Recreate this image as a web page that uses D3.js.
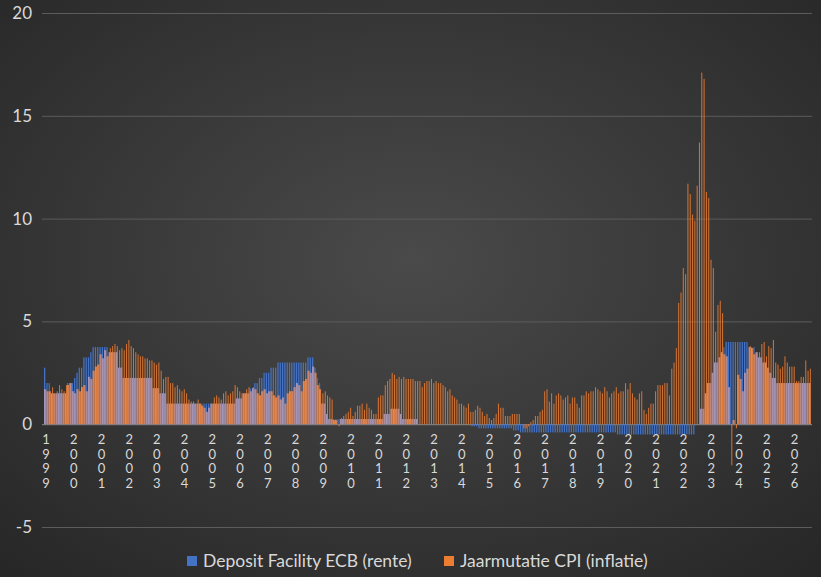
<!DOCTYPE html>
<html>
<head>
<meta charset="utf-8">
<script src="https://cdn.jsdelivr.net/npm/d3@7"></script>
<style>
 body { margin:0; background:#2b2b2b; }
 svg { display:block; font-family: Lato, "Open Sans", sans-serif; }
</style>
</head>
<body>
<div id="chart"></div>
<script>
// months from Jan 1999 through Aug 2026
var startYear = 1999;

// ECB deposit facility rate, per year (12 months each)
var depositRate = [
	[2.75,2.0,2.0,1.5,1.5,1.5,1.5,1.5,1.5,1.5,2.0,2.0],
	[2.0,2.25,2.5,2.75,2.75,3.25,3.25,3.25,3.5,3.75,3.75,3.75],
	[3.75,3.75,3.75,3.75,3.5,3.5,3.5,3.5,2.75,2.75,2.25,2.25],
	[2.25,2.25,2.25,2.25,2.25,2.25,2.25,2.25,2.25,2.25,2.25,1.75],
	[1.75,1.75,1.5,1.5,1.5,1.0,1.0,1.0,1.0,1.0,1.0,1.0],
	[1.0,1.0,1.0,1.0,1.0,1.0,1.0,1.0,1.0,1.0,1.0,1.0],
	[1.0,1.0,1.0,1.0,1.0,1.0,1.0,1.0,1.0,1.0,1.0,1.25],
	[1.25,1.25,1.5,1.5,1.5,1.75,1.75,2.0,2.0,2.25,2.25,2.5],
	[2.5,2.5,2.75,2.75,2.75,3.0,3.0,3.0,3.0,3.0,3.0,3.0],
	[3.0,3.0,3.0,3.0,3.0,3.0,3.25,3.25,3.25,2.75,2.25,2.0],
	[1.0,1.0,0.5,0.25,0.25,0.25,0.25,0.25,0.25,0.25,0.25,0.25],
	[0.25,0.25,0.25,0.25,0.25,0.25,0.25,0.25,0.25,0.25,0.25,0.25],
	[0.25,0.25,0.25,0.5,0.5,0.5,0.75,0.75,0.75,0.75,0.5,0.25],
	[0.25,0.25,0.25,0.25,0.25,0.25,0,0,0,0,0,0],
	[0,0,0,0,0,0,0,0,0,0,0,0],
	[0,0,0,0,0,-0.1,-0.1,-0.1,-0.2,-0.2,-0.2,-0.2],
	[-0.2,-0.2,-0.2,-0.2,-0.2,-0.2,-0.2,-0.2,-0.2,-0.2,-0.2,-0.3],
	[-0.3,-0.3,-0.4,-0.4,-0.4,-0.4,-0.4,-0.4,-0.4,-0.4,-0.4,-0.4],
	[-0.4,-0.4,-0.4,-0.4,-0.4,-0.4,-0.4,-0.4,-0.4,-0.4,-0.4,-0.4],
	[-0.4,-0.4,-0.4,-0.4,-0.4,-0.4,-0.4,-0.4,-0.4,-0.4,-0.4,-0.4],
	[-0.4,-0.4,-0.4,-0.4,-0.4,-0.4,-0.4,-0.4,-0.5,-0.5,-0.5,-0.5],
	[-0.5,-0.5,-0.5,-0.5,-0.5,-0.5,-0.5,-0.5,-0.5,-0.5,-0.5,-0.5],
	[-0.5,-0.5,-0.5,-0.5,-0.5,-0.5,-0.5,-0.5,-0.5,-0.5,-0.5,-0.5],
	[-0.5,-0.5,-0.5,-0.5,-0.5,-0.5,0,0,0.75,0.75,1.5,2.0],
	[2.0,2.5,3.0,3.0,3.25,3.5,3.75,4.0,4.0,4.0,4.0,4.0],
	[4.0,4.0,4.0,4.0,4.0,3.75,3.75,3.75,3.5,3.25,3.25,3.0],
	[3.0,2.75,2.5,2.25,2.25,2.0,2.0,2.0,2.0,2.0,2.0,2.0],
	[2.0,2.0,2.0,2.0,2.0,2.0,2.0,2.0]
];

// yearly change CPI, per year
var inflation = [
	[1.7,1.6,1.6,1.8,1.5,1.6,1.9,1.7,1.6,1.9,1.9,2.0],
	[1.6,1.5,1.7,1.6,1.8,1.9,1.6,2.3,2.2,2.6,2.8,2.9],
	[3.4,3.2,3.6,3.3,3.7,3.8,3.9,3.8,3.6,3.7,3.6,3.9],
	[4.1,3.8,3.7,3.5,3.4,3.3,3.3,3.2,3.2,3.1,3.1,3.0],
	[2.9,3.0,2.6,2.2,2.3,2.3,2.0,2.0,1.8,1.9,1.7,1.6],
	[1.7,1.5,1.2,1.1,1.1,1.0,1.2,1.0,0.9,0.8,0.6,0.8],
	[1.0,1.3,1.4,1.3,1.2,1.5,1.6,1.4,1.5,1.6,1.9,1.8],
	[1.6,1.5,1.5,1.7,1.8,1.6,1.8,1.7,1.5,1.4,1.6,1.7],
	[1.5,1.6,1.6,1.4,1.3,1.4,1.2,1.3,1.0,1.5,1.6,1.6],
	[1.8,2.0,1.9,1.6,2.1,2.2,2.6,2.5,2.8,2.5,1.9,1.7],
	[1.5,1.6,1.4,1.3,1.2,0.2,0.2,-0.1,0.3,0.4,0.5,0.6],
	[0.8,0.4,0.6,0.9,0.9,1.0,0.7,1.0,0.8,0.7,0.5,0.5],
	[1.3,1.4,1.4,1.9,2.1,2.2,2.5,2.4,2.2,2.3,2.2,2.3],
	[2.2,2.2,2.2,2.2,2.1,2.1,2.1,1.8,2.0,2.1,2.1,2.2],
	[2.0,2.1,2.0,2.0,1.9,1.8,1.6,1.7,1.4,1.3,1.2,1.0],
	[1.0,0.9,0.8,1.0,0.6,0.6,0.7,0.9,0.8,0.6,0.4,0.5],
	[0.3,0.2,0.3,0.5,1.0,0.8,0.8,0.4,0.4,0.4,0.5,0.5],
	[0.5,0.5,0.0,-0.2,-0.2,-0.1,0.1,0.2,0.4,0.4,0.6,0.7],
	[1.6,1.7,1.1,1.5,1.0,1.4,1.5,1.4,1.2,1.3,1.4,1.0],
	[1.3,1.3,1.0,0.8,1.4,1.4,1.6,1.5,1.6,1.6,1.8,1.7],
	[1.6,1.5,1.8,1.6,1.3,1.5,1.6,1.8,1.5,1.6,1.6,2.0],
	[1.7,2.0,1.5,1.3,1.2,1.5,1.6,0.7,0.5,0.8,1.0,1.0],
	[1.6,1.9,1.9,1.9,2.0,2.0,1.4,2.7,3.0,3.7,5.9,6.4],
	[7.6,7.3,11.7,11.2,10.2,9.9,11.6,13.7,17.1,16.8,11.3,11.0],
	[8.0,7.6,4.5,5.8,6.0,5.4,3.4,3.3,1.8,-2.0,0.2,-0.2],
	[2.4,2.2,1.6,2.5,2.7,3.8,3.7,3.4,3.5,3.5,3.9,4.0],
	[3.3,3.8,3.7,4.1,3.0,2.9,2.7,2.8,3.3,3.0,2.8,2.8],
	[2.8,2.1,2.1,2.3,2.3,3.1,2.6,2.7]
];

var yTicks = [-5, 0, 5, 10, 15, 20];
var seriesNames = ["Deposit Facility ECB (rente)", "Jaarmutatie CPI (inflatie)"];
var seriesColors = ["#4472c4", "#ed7d31"];

var data = [];
depositRate.forEach(function(row, yi) {
	row.forEach(function(v, mi) {
		data.push({ i: data.length, year: startYear + yi, month: mi, dep: v, cpi: inflation[yi][mi] });
	});
});

var W = 821, H = 577;
var svg = d3.select("#chart").append("svg").attr("width", W).attr("height", H);

var defs = svg.append("defs");
var grad = defs.append("radialGradient").attr("id", "bg").attr("cx", "50%").attr("cy", "45%").attr("r", "75%");
grad.append("stop").attr("offset", "0%").attr("stop-color", "#4a4a4a");
grad.append("stop").attr("offset", "100%").attr("stop-color", "#262626");
svg.append("rect").attr("width", W).attr("height", H).attr("fill", "url(#bg)");

var x = d3.scaleBand().domain(data.map(function(d) { return d.i; })).range([44, 811]).padding(0);
var y = d3.scaleLinear().domain([-5, 20]).range([527, 13]);
var bw = x.bandwidth();

// grid
svg.append("g").selectAll("line").data(yTicks).enter().append("line")
	.attr("x1", 42).attr("x2", 812)
	.attr("y1", function(d) { return y(d) + 0.5; }).attr("y2", function(d) { return y(d) + 0.5; })
	.attr("stroke", function(d) { return d === 0 ? "#8a8a8a" : "#5c5c5c"; }).attr("stroke-width", 1);

// y axis labels
var yAxis = d3.axisLeft(y).tickValues(yTicks).tickSize(0).tickPadding(0).tickFormat(function(d) { return String(d); });
var gy = svg.append("g").attr("transform", "translate(32,0)").call(yAxis);
gy.select(".domain").remove();
gy.selectAll("text").attr("fill", "#d9d9d9").style("font-size", "17px").style("font-family", "Lato, 'Open Sans', sans-serif");

var bars = svg.append("g");
// blue
bars.selectAll(".dep").data(data).enter().append("rect")
	.attr("x", function(d) { return x(d.i); })
	.attr("width", bw * 0.55)
	.attr("y", function(d) { return y(Math.max(0, d.dep)); })
	.attr("height", function(d) { return Math.abs(y(d.dep) - y(0)); })
	.attr("fill", seriesColors[0]);
// overlap where both series share sign
bars.selectAll(".ov").data(data.filter(function(d) { return d.dep > 0 && d.cpi > 0; })).enter().append("rect")
	.attr("x", function(d) { return x(d.i); })
	.attr("width", bw * 0.85)
	.attr("y", function(d) { return y(Math.min(d.dep, d.cpi)); })
	.attr("height", function(d) { return y(0) - y(Math.min(d.dep, d.cpi)); })
	.attr("fill", "#e2aeb0").attr("opacity", 0.6);
// orange
bars.selectAll(".cpi").data(data).enter().append("rect")
	.attr("x", function(d) { return x(d.i) + bw * 0.5; })
	.attr("width", bw * 0.45)
	.attr("y", function(d) { return y(Math.max(0, d.cpi)); })
	.attr("height", function(d) { return Math.abs(y(d.cpi) - y(0)); })
	.attr("fill", seriesColors[1]).attr("opacity", 0.85);

// x labels: vertical digits
var years = data.filter(function(d) { return d.month === 0; });
var xl = svg.append("g").selectAll("text").data(years).enter().append("text")
	.attr("x", function(d) { return x(d.i) + 2; })
	.attr("y", 444)
	.attr("fill", "#d9d9d9").style("font-size", "13px").attr("text-anchor", "middle");
xl.each(function(d) {
	var t = d3.select(this);
	String(d.year).split("").forEach(function(c, k) {
		t.append("tspan").attr("x", x(d.i) + 2).attr("dy", k === 0 ? 0 : 14.7).text(c);
	});
});

// legend
var lg = svg.append("g").attr("transform", "translate(187,561)");
var lx = [0, 257];
seriesNames.forEach(function(n, k) {
	lg.append("rect").attr("x", lx[k]).attr("y", -5).attr("width", 10).attr("height", 10).attr("fill", seriesColors[k]);
	lg.append("text").attr("x", lx[k] + 16).attr("y", 6).attr("fill", "#d9d9d9").style("font-size", "17.5px").text(n);
});
</script>
</body>
</html>
